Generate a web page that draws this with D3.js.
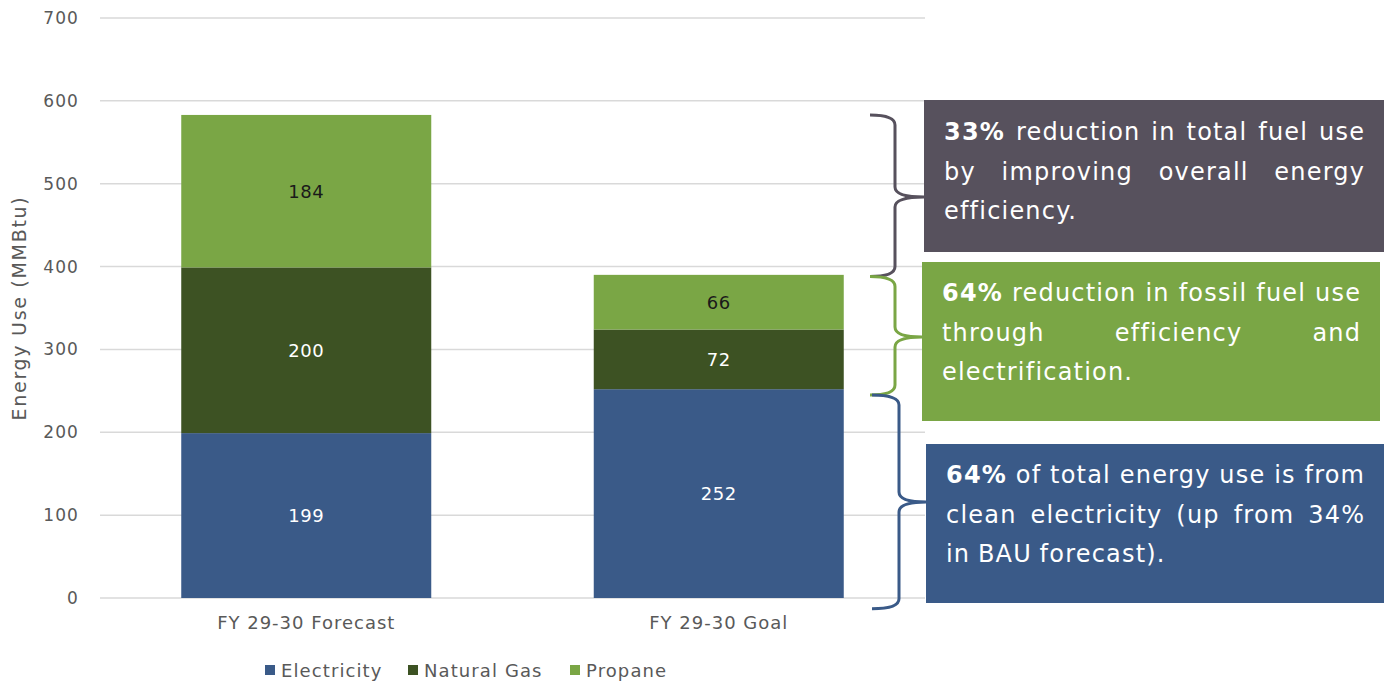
<!DOCTYPE html>
<html><head><meta charset="utf-8">
<script src="https://cdn.jsdelivr.net/npm/d3@7"></script>
<style>body{margin:0;background:#fff}svg{display:block}</style>
</head><body>
<svg id="c" width="1388" height="683"></svg>
<script>
const categories = ["FY 29-30 Forecast", "FY 29-30 Goal"];
const seriesNames = ["Electricity", "Natural Gas", "Propane"];
const electricity = [199, 252];
const naturalGas = [200, 72];
const propane = [184, 66];
const yTicks = [0, 100, 200, 300, 400, 500, 600, 700];
const seriesColors = ["#3a5a88", "#3d5223", "#7aa645"];
const labelColors = ["#ffffff", "#ffffff", "#1a1a1a"];

const notes = [
  {bold: "33%", lines: [" reduction in total fuel use", "by improving overall energy", "efficiency."], color: "#57515d", span: [583, 388]},
  {bold: "64%", lines: [" reduction in fossil fuel use", "through efficiency and", "electrification."], color: "#7aa645", span: [388, 245]},
  {bold: "64%", lines: [" of total energy use is from", "clean electricity (up from 34%", "in BAU forecast)."], color: "#3a5a88", span: [245, -13]}
];

const FONT = "'DejaVu Sans', sans-serif";
const svg = d3.select("#c");
const y = d3.scaleLinear().domain([0, 700]).range([598, 18]);
const x = d3.scaleBand().domain(categories).range([100, 925]).padding(0);
const barW = 250;

// gridlines
svg.append("g").selectAll("line").data(yTicks).join("line")
  .attr("x1", 100).attr("x2", 925)
  .attr("y1", d => y(d)).attr("y2", d => y(d))
  .attr("stroke", "#d9d9d9").attr("stroke-width", 1.5);

// y axis
const yAxis = svg.append("g").attr("transform", "translate(100,0)")
  .call(d3.axisLeft(y).tickValues(yTicks).tickSize(0).tickPadding(21));
yAxis.select(".domain").remove();
yAxis.selectAll("text").attr("font-family", FONT).attr("font-size", 17)
  .attr("letter-spacing", 1.1).attr("fill", "#595959");

svg.append("text").attr("transform", "translate(26,308) rotate(-90)")
  .attr("text-anchor", "middle").attr("font-family", FONT).attr("font-size", 19)
  .attr("letter-spacing", 1.7).attr("fill", "#595959").text("Energy Use (MMBtu)");

// stacked data
const table = categories.map((c, i) => ({cat: c, Electricity: electricity[i], "Natural Gas": naturalGas[i], Propane: propane[i]}));
const stack = d3.stack().keys(seriesNames)(table);

stack.forEach((layer, si) => {
  const g = svg.append("g");
  g.selectAll("rect").data(layer).join("rect")
    .attr("x", d => x(d.data.cat) + x.bandwidth() / 2 - barW / 2)
    .attr("width", barW)
    .attr("y", d => y(d[1]))
    .attr("height", d => y(d[0]) - y(d[1]))
    .attr("fill", seriesColors[si]);
  g.selectAll("text").data(layer).join("text")
    .attr("x", d => x(d.data.cat) + x.bandwidth() / 2)
    .attr("y", d => (y(d[0]) + y(d[1])) / 2)
    .attr("dy", "0.36em")
    .attr("text-anchor", "middle").attr("font-family", FONT).attr("font-size", 18)
    .attr("letter-spacing", 0.5)
    .attr("fill", labelColors[si])
    .text(d => d[1] - d[0]);
});

// x axis labels
const xAxis = svg.append("g").attr("transform", "translate(0,598)")
  .call(d3.axisBottom(x).tickSize(0).tickPadding(18));
xAxis.select(".domain").remove();
xAxis.selectAll("text").attr("font-family", FONT).attr("font-size", 18)
  .attr("letter-spacing", 1.0).attr("fill", "#595959");

// legend
const legX = [265, 408, 570];
const leg = svg.append("g");
seriesNames.forEach((n, i) => {
  leg.append("rect").attr("x", legX[i]).attr("y", 665).attr("width", 10).attr("height", 10).attr("fill", seriesColors[i]);
  leg.append("text").attr("x", legX[i] + 16).attr("y", 677).attr("font-family", FONT)
    .attr("font-size", 18).attr("letter-spacing", 1.1).attr("fill", "#595959").text(n);
});

// boxes
const boxes = [
  {x: 924, y: 100, w: 460, h: 152, tx: 944, tw: 420, ty: 140},
  {x: 922, y: 262, w: 458, h: 159, tx: 942, tw: 418, ty: 301},
  {x: 926, y: 444, w: 458, h: 159, tx: 946, tw: 418, ty: 483}
];
const lineH = 39.5, BFS = 24, LS = 1.2;

notes.forEach((n, i) => {
  const b = boxes[i];
  svg.append("rect").attr("x", b.x).attr("y", b.y).attr("width", b.w).attr("height", b.h).attr("fill", n.color);
  const meas = svg.append("text").attr("font-family", FONT).attr("font-size", BFS).attr("letter-spacing", LS);
  const widthOf = (t, bold) => { meas.attr("font-weight", bold ? "bold" : "normal").text(t); return meas.node().getComputedTextLength() - LS; };
  const sp = widthOf("a a", false) - widthOf("aa", false);
  n.lines.forEach((line, li) => {
    const ws = line.trim().split(/\s+/).map(t => ({t, bold: false}));
    if (li === 0) ws.unshift({t: n.bold, bold: true});
    ws.forEach(w => w.w = widthOf(w.t, w.bold));
    const total = d3.sum(ws, w => w.w);
    const last = li === n.lines.length - 1;
    let gap = (!last && ws.length > 1) ? (b.tw - total) / (ws.length - 1) : sp;
    if (gap < sp * 0.6) gap = sp * 0.6;
    let cx = b.tx;
    ws.forEach(w => {
      svg.append("text").attr("x", cx).attr("y", b.ty + li * lineH)
        .attr("font-family", FONT).attr("font-size", BFS).attr("letter-spacing", LS)
        .attr("font-weight", w.bold ? "bold" : "normal")
        .attr("fill", "#ffffff").text(w.t);
      cx += w.w + gap;
    });
  });
  meas.remove();
});

// braces
const braceX = [[870, 895, 924], [870, 895, 922], [872, 899, 926]];
const braceMid = [197, 337, 502];
notes.forEach((n, i) => {
  const top = y(n.span[0]), bot = y(n.span[1]);
  const [x0, x1, x2] = braceX[i];
  const mid = braceMid[i];
  const r = 10;
  const p = `M${x0},${top} Q${x1},${top} ${x1},${top + r} L${x1},${mid - r} Q${x1},${mid} ${x2},${mid} Q${x1},${mid} ${x1},${mid + r} L${x1},${bot - r} Q${x1},${bot} ${x0},${bot}`;
  svg.append("path").attr("d", p).attr("fill", "none").attr("stroke", n.color).attr("stroke-width", 3);
});
</script>
</body></html>
